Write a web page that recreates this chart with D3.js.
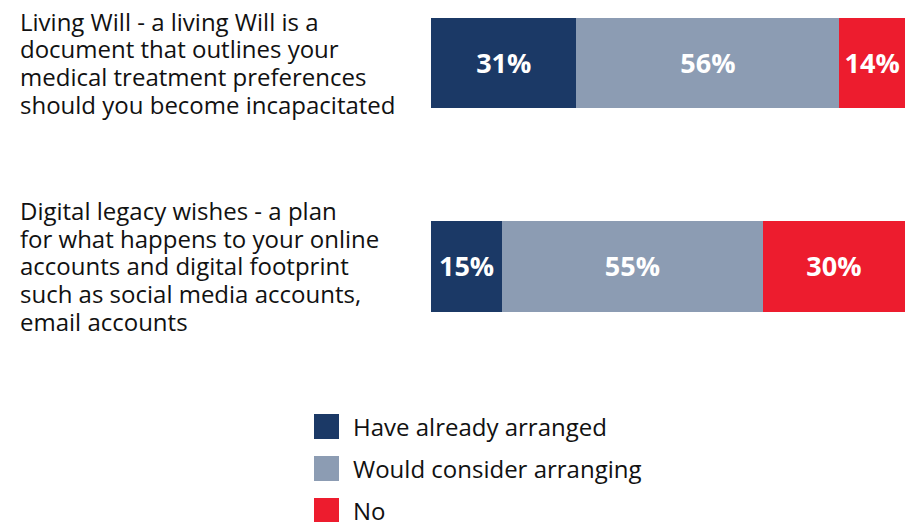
<!DOCTYPE html>
<html>
<head>
<meta charset="utf-8">
<script src="https://cdn.jsdelivr.net/npm/d3@7"></script>
<style>
  html, body { margin: 0; padding: 0; background: #fff; }
  svg { display: block; }
  text { font-family: "Open Sans", "Noto Sans", sans-serif; }
</style>
</head>
<body>
<svg id="chart" width="910" height="522"></svg>
<script>
// Questions (each wrapped over several lines)
const categories = [
  ["Living Will - a living Will is a",
   "document that outlines your",
   "medical treatment preferences",
   "should you become incapacitated"],
  ["Digital legacy wishes - a plan",
   "for what happens to your online",
   "accounts and digital footprint",
   "such as social media accounts,",
   "email accounts"]
];
const categoryKeys = ["living", "digital"];

// Response options and their shares (%)
const seriesNames = ["Have already arranged", "Would consider arranging", "No"];
const arranged = [31, 15];
const consider = [56, 55];
const no = [14, 30];
const colors = ["#1b3966", "#8c9cb3", "#ed1c2e"];

const rows = categoryKeys.map((k, i) => ({
  key: k,
  [seriesNames[0]]: arranged[i],
  [seriesNames[1]]: consider[i],
  [seriesNames[2]]: no[i]
}));

const svg = d3.select("#chart");

const stacked = d3.stack()
  .keys(seriesNames)
  .offset(d3.stackOffsetExpand)(rows);

const x = d3.scaleLinear().domain([0, 1]).range([431, 905]);
const y = d3.scaleBand()
  .domain(categoryKeys)
  .range([17.7, 311.7])
  .paddingInner(0.5545)
  .paddingOuter(0);
const color = d3.scaleOrdinal().domain(seriesNames).range(colors);

// Stacked bars
const layers = svg.append("g").selectAll("g")
  .data(stacked)
  .join("g")
  .attr("fill", d => color(d.key));

layers.selectAll("rect")
  .data(d => d.map(p => ({ p, key: d.key })))
  .join("rect")
  .attr("x", d => x(d.p[0]))
  .attr("y", d => y(d.p.data.key))
  .attr("width", d => x(d.p[1]) - x(d.p[0]))
  .attr("height", y.bandwidth())
  .attr("shape-rendering", "crispEdges");

// Value labels inside segments
layers.selectAll("text")
  .data(d => d.map(p => ({ p, key: d.key })))
  .join("text")
  .attr("x", d => (x(d.p[0]) + x(d.p[1])) / 2)
  .attr("y", d => y(d.p.data.key) + y.bandwidth() / 2 + 9.5)
  .attr("text-anchor", "middle")
  .attr("fill", "#fff")
  .attr("font-weight", 700)
  .attr("font-size", 27)
  .text(d => d.p.data[d.key] + "%");

// Category labels on the left
const lineH = 27.7;
const firstBaseline = [30.5, 220];
svg.append("g").selectAll("text")
  .data(categories)
  .join("text")
  .attr("x", 20)
  .attr("y", (d, i) => firstBaseline[i])
  .attr("font-size", 24)
  .attr("fill", "#111")
  .selectAll("tspan")
  .data(d => d)
  .join("tspan")
  .attr("x", 20)
  .attr("dy", (d, i) => i === 0 ? 0 : lineH)
  .text(d => d);

// Legend
const legend = svg.append("g").selectAll("g")
  .data(seriesNames)
  .join("g")
  .attr("transform", (d, i) => `translate(314, ${414 + i * 42})`);

legend.append("rect")
  .attr("width", 25)
  .attr("height", 25)
  .attr("fill", d => color(d));

legend.append("text")
  .attr("x", 39)
  .attr("y", 21.5)
  .attr("font-size", 24)
  .attr("fill", "#111")
  .text(d => d);
</script>
</body>
</html>
